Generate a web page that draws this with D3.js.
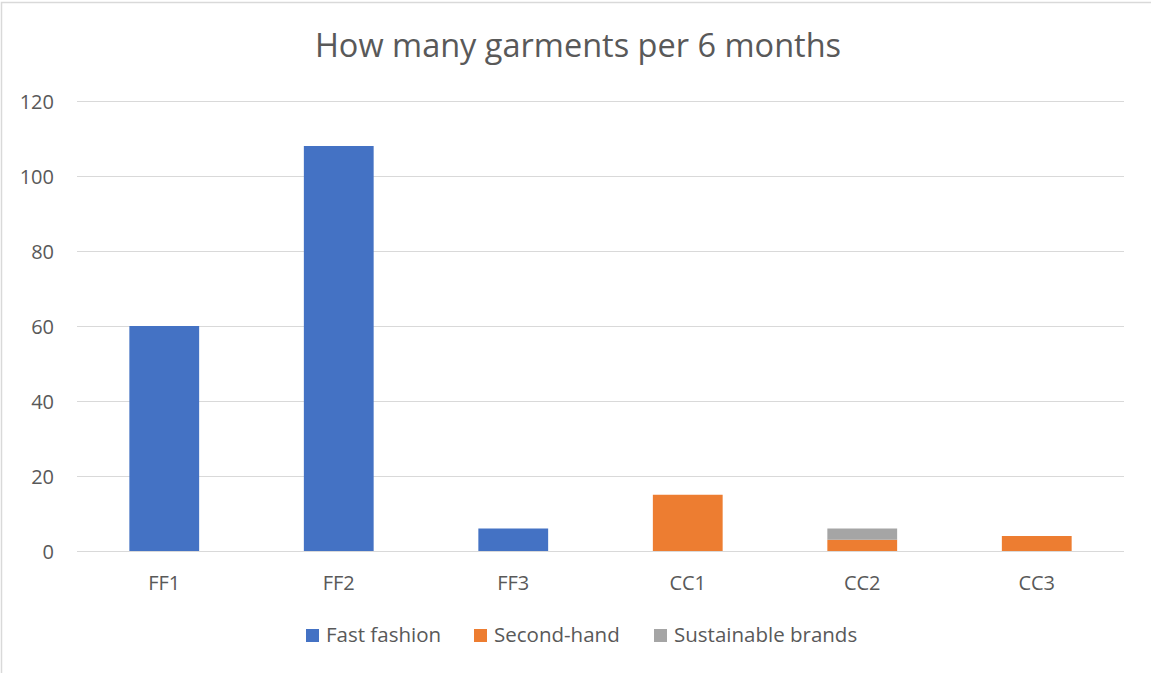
<script src="https://d3js.org/d3.v7.min.js"></script>
<style>
  body { margin: 0; background: #fff; }
  svg { display: block; font-family: "Open Sans", sans-serif; }
</style>
<svg width="1151" height="673"></svg>
<script>
    var width = 1151;
    var height = 673;
    var margin = { top: 101, right: 27, bottom: 122, left: 77 };

    var categories = ['FF1', 'FF2', 'FF3', 'CC1', 'CC2', 'CC3'];
    var seriesNames = ['Fast fashion', 'Second-hand', 'Sustainable brands'];
    var fastFashion = [60, 108, 6, 0, 0, 0];
    var secondHand = [0, 0, 0, 15, 3, 4];
    var sustainable = [0, 0, 0, 0, 3, 0];
    var yTicks = [0, 20, 40, 60, 80, 100, 120];
    var colors = ['#4472C4', '#ED7D31', '#A5A5A5'];

    var rows = categories.map((c, i) => ({
        cat: c,
        'Fast fashion': fastFashion[i],
        'Second-hand': secondHand[i],
        'Sustainable brands': sustainable[i]
    }));

    var stacked = d3.stack().keys(seriesNames)(rows);

    var svg = d3.select('svg');

    // chart border (only top/left visible in the crop)
    svg.append('path')
        .attr('d', `M1.5,${height} V2.5 H${width}`)
        .attr('fill', 'none')
        .attr('stroke', '#D9D9D9')
        .attr('stroke-width', 1.5);

    var x = d3.scaleBand()
        .domain(categories)
        .range([margin.left, width - margin.right])
        .paddingInner(0.6)
        .paddingOuter(0.3);

    var y = d3.scaleLinear()
        .domain([0, 120])
        .range([height - margin.bottom, margin.top]);

    // gridlines
    svg.append('g')
        .selectAll('line')
        .data(yTicks)
        .join('line')
        .attr('x1', margin.left)
        .attr('x2', width - margin.right)
        .attr('y1', d => y(d) + 0.5)
        .attr('y2', d => y(d) + 0.5)
        .attr('stroke', '#D9D9D9')
        .attr('stroke-width', 1);

    // y labels
    svg.append('g')
        .selectAll('text')
        .data(yTicks)
        .join('text')
        .attr('x', 54)
        .attr('y', d => y(d) + 1)
        .attr('dy', '0.35em')
        .attr('text-anchor', 'end')
        .attr('font-size', 20)
        .attr('fill', '#595959')
        .text(d => d);

    // bars
    svg.append('g')
        .selectAll('g')
        .data(stacked)
        .join('g')
        .attr('fill', (d, i) => colors[i])
        .selectAll('rect')
        .data(d => d.filter(v => v[1] - v[0] > 0))
        .join('rect')
        .attr('x', d => x(d.data.cat))
        .attr('width', x.bandwidth())
        .attr('y', d => y(d[1]))
        .attr('height', d => y(d[0]) - y(d[1]));

    // x labels
    svg.append('g')
        .selectAll('text')
        .data(categories)
        .join('text')
        .attr('x', d => x(d) + x.bandwidth() / 2)
        .attr('y', 590)
        .attr('text-anchor', 'middle')
        .attr('font-size', 20)
        .attr('fill', '#595959')
        .text(d => d);

    // title
    svg.append('text')
        .attr('x', 578)
        .attr('y', 57)
        .attr('text-anchor', 'middle')
        .attr('font-size', 32.5)
        .attr('fill', '#595959')
        .text('How many garments per 6 months');

    // legend
    var legendX = [306, 474, 654];
    var legend = svg.append('g')
        .selectAll('g')
        .data(seriesNames)
        .join('g')
        .attr('transform', (d, i) => `translate(${legendX[i]},629)`);
    legend.append('rect')
        .attr('width', 13)
        .attr('height', 13)
        .attr('fill', (d, i) => colors[i]);
    legend.append('text')
        .attr('x', 20)
        .attr('y', 13)
        .attr('font-size', 20.5)
        .attr('fill', '#595959')
        .text(d => d);
</script>
